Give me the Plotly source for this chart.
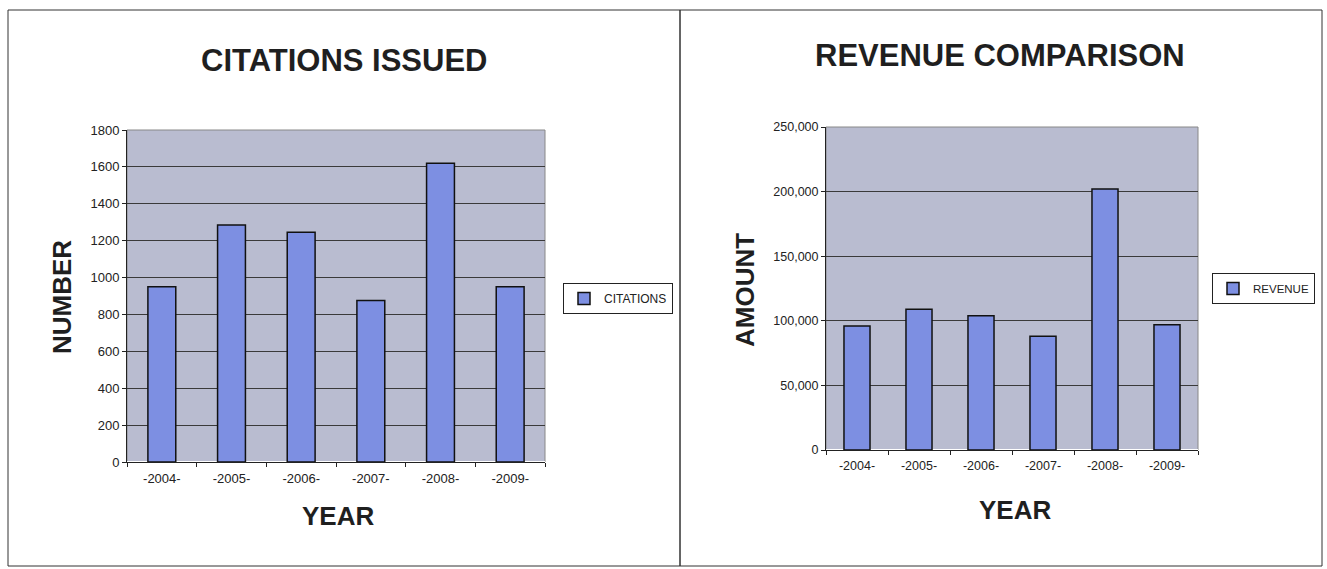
import plotly.graph_objects as go

years = ["-2004-", "-2005-", "-2006-", "-2007-", "-2008-", "-2009-"]
citations = [950, 1285, 1245, 875, 1620, 950]
revenue = [96000, 109000, 104000, 88000, 202000, 97000]
cit_ticks = [0, 200, 400, 600, 800, 1000, 1200, 1400, 1600, 1800]
rev_ticks = [0, 50000, 100000, 150000, 200000, 250000]
rev_tick_text = ["0", "50,000", "100,000", "150,000", "200,000", "250,000"]

W, H = 1327, 569
def px(x): return x / W
def py(y): return 1 - y / H

BAR = "#7d8fe2"
PLOT_BG = "#b9bcd0"
FONT = "Liberation Sans, Arial, sans-serif"

fig = go.Figure()
fig.add_trace(go.Bar(x=years, y=citations, name="CITATIONS", xaxis="x", yaxis="y",
                     marker=dict(color=BAR, line=dict(color="#111111", width=1.5)),
                     width=0.4, legend="legend"))
fig.add_trace(go.Bar(x=years, y=revenue, name="REVENUE", xaxis="x2", yaxis="y2",
                     marker=dict(color=BAR, line=dict(color="#111111", width=1.5)),
                     width=0.42, legend="legend2"))

def axis_common(size):
    return dict(showline=True, linecolor="#222222", linewidth=1, ticks="outside",
                ticklen=4, tickcolor="#222222", automargin=False,
                tickfont=dict(family=FONT, size=size, color="#222222"))

fig.update_layout(
    width=W, height=H,
    margin=dict(l=0, r=0, t=0, b=0, autoexpand=False),
    paper_bgcolor="white",
    plot_bgcolor=PLOT_BG,
    font=dict(family=FONT, color="#222222"),
    xaxis=dict(domain=[px(127), px(545)], anchor="y", tickson="boundaries",
               showgrid=False, ticklabelstandoff=4, **axis_common(13)),
    yaxis=dict(domain=[py(462), py(130)], anchor="x", range=[0, 1800], tickvals=cit_ticks,
               showgrid=True, gridcolor="#3a3a3a", gridwidth=1, **axis_common(13)),
    xaxis2=dict(domain=[px(826), px(1198)], anchor="y2", tickson="boundaries",
                showgrid=False, ticklabelstandoff=4, **axis_common(12.5)),
    yaxis2=dict(domain=[py(450), py(127)], anchor="x2", range=[0, 250000], tickvals=rev_ticks,
                ticktext=rev_tick_text, showgrid=True, gridcolor="#3a3a3a", gridwidth=1,
                **axis_common(12.5)),
    legend=dict(x=px(563), y=py(283), xanchor="left", yanchor="top", bgcolor="white",
                bordercolor="#222222", borderwidth=1, font=dict(family=FONT, size=12),
                itemwidth=30, tracegroupgap=0),
    legend2=dict(x=px(1212), y=py(273), xanchor="left", yanchor="top", bgcolor="white",
                 bordercolor="#222222", borderwidth=1, font=dict(family=FONT, size=11.5),
                 itemwidth=30, tracegroupgap=0),
    showlegend=True,
)

# panel borders
fig.add_shape(type="rect", xref="paper", yref="paper", x0=px(8), x1=px(680), y0=py(566), y1=py(10),
              line=dict(color="#333333", width=1))
fig.add_shape(type="rect", xref="paper", yref="paper", x0=px(680), x1=px(1322), y0=py(566), y1=py(10),
              line=dict(color="#333333", width=1))
for xa, ya in [("x", "y"), ("x2", "y2")]:
    fig.add_shape(type="rect", xref=f"{xa} domain", yref=f"{ya} domain", x0=0, x1=1, y0=0, y1=1,
                  line=dict(color="#888888", width=1), layer="below")

ann = [
    dict(text="<b>CITATIONS ISSUED</b>", x=px(344), y=py(60), size=31, angle=0),
    dict(text="<b>REVENUE COMPARISON</b>", x=px(1000), y=py(56), size=31, angle=0),
    dict(text="<b>NUMBER</b>", x=px(62), y=py(297), size=26, angle=-90),
    dict(text="<b>YEAR</b>", x=px(338), y=py(516), size=26, angle=0),
    dict(text="<b>AMOUNT</b>", x=px(745), y=py(290), size=26, angle=-90),
    dict(text="<b>YEAR</b>", x=px(1015), y=py(510), size=26, angle=0),
]
for a in ann:
    fig.add_annotation(text=a["text"], x=a["x"], y=a["y"], xref="paper", yref="paper",
                       xanchor="center", yanchor="middle", showarrow=False, textangle=a["angle"],
                       font=dict(family=FONT, size=a["size"], color="#1f1f1f"))

fig.write_html("out.html", config={"displayModeBar": False},
               post_script="document.body.style.margin='0';document.body.style.overflow='hidden';")
